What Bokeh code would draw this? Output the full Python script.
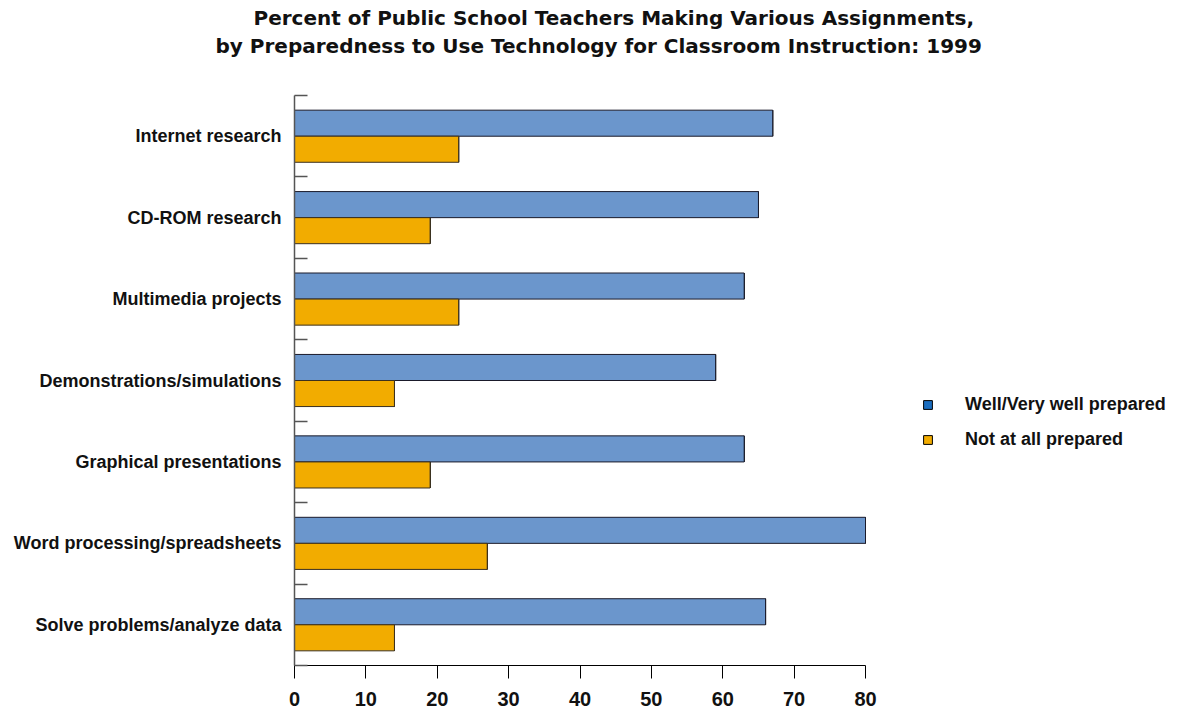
from bokeh.plotting import figure
from bokeh.models import Range1d, FixedTicker, ColumnDataSource, Legend, LegendItem, Title
from bokeh.transform import dodge
from bokeh.embed import file_html
from bokeh.resources import INLINE

title_lines = [
    "Percent of Public School Teachers Making Various Assignments,",
    "by Preparedness to Use Technology for Classroom Instruction: 1999",
]
categories = [
    "Internet research",
    "CD-ROM research",
    "Multimedia projects",
    "Demonstrations/simulations",
    "Graphical presentations",
    "Word processing/spreadsheets",
    "Solve problems/analyze data",
]
well_prepared = [67, 65, 63, 59, 63, 80, 66]
not_prepared = [23, 19, 23, 14, 19, 27, 14]
series_names = ["Well/Very well prepared", "Not at all prepared"]
x_ticks = [0, 10, 20, 30, 40, 50, 60, 70, 80]

BLUE_BAR = "#6b96cc"
ORANGE = "#f2ac00"
BLUE_KEY = "#1b6ec0"
FONT = "Liberation Sans"
TFONT = "DejaVu Sans"

W, H = 1179, 713
FRAME_L, AXIS_R = 294, 865          # pixel positions of value 0 and value 80
x_max = x_ticks[-1]
x_end = x_max * (W - FRAME_L) / (AXIS_R - FRAME_L)   # frame runs to the right edge

n = len(categories)
pos = [n - i - 0.5 for i in range(n)]
source = ColumnDataSource(dict(cat=categories, y=pos, well=well_prepared, notp=not_prepared))

p = figure(width=W, height=H, x_range=Range1d(0, x_end), y_range=Range1d(0, n),
           output_backend="svg", toolbar_location=None, title=None,
           min_border_left=FRAME_L, min_border_right=0, min_border_top=95, min_border_bottom=48)
p.outline_line_color = None
p.xgrid.visible = False
p.ygrid.visible = False

# legend key proxies: zero-width rects sitting on the bars' right edges (hidden under outlines)
k1 = p.hbar(y=dodge("y", 0.16), left="well", right="well", height=0.32, source=source,
            fill_color=BLUE_KEY, line_color="black", line_width=1)
k2 = p.hbar(y=dodge("y", -0.16), left="notp", right="notp", height=0.32, source=source,
            fill_color=ORANGE, line_color="black", line_width=1)

p.hbar(y=dodge("y", 0.16), right="well", left=0, height=0.32, source=source,
       fill_color=BLUE_BAR, line_color="#1a1a2a", line_width=1)
p.hbar(y=dodge("y", -0.16), right="notp", left=0, height=0.32, source=source,
       fill_color=ORANGE, line_color="#3a3020", line_width=1)

# x axis
xa = p.xaxis[0]
xa.ticker = FixedTicker(ticks=x_ticks)
xa.bounds = (0, x_max)
xa.major_tick_in = 0
xa.major_tick_out = 13
xa.minor_tick_out = 0
xa.minor_tick_in = 0
xa.axis_line_color = "black"
xa.major_tick_line_color = "black"
xa.major_label_text_font = FONT
xa.major_label_text_font_size = "20px"
xa.major_label_text_font_style = "bold"
xa.major_label_text_color = "#111111"
xa.major_label_standoff = 13

# y axis
ya = p.yaxis[0]
ya.ticker = FixedTicker(ticks=pos, minor_ticks=list(range(n + 1)))
ya.major_label_overrides = {float(v): c for v, c in zip(pos, categories)}
ya.major_tick_in = 0
ya.major_tick_out = 0
ya.minor_tick_in = 13
ya.minor_tick_out = 0
ya.axis_line_color = "#555555"
ya.axis_line_width = 1.5
ya.minor_tick_line_color = "#555555"
ya.minor_tick_line_width = 1.5
ya.major_label_text_font = FONT
ya.major_label_text_font_size = "18px"
ya.major_label_text_font_style = "bold"
ya.major_label_text_color = "#111111"
ya.major_label_standoff = 13

legend = Legend(items=[LegendItem(label=series_names[0], renderers=[k1]),
                       LegendItem(label=series_names[1], renderers=[k2])],
                location=(628, 215), glyph_width=11, glyph_height=11, spacing=14,
                label_standoff=32, padding=10, margin=0,
                border_line_color=None, background_fill_alpha=0,
                label_text_font=FONT, label_text_font_size="18px",
                label_text_font_style="bold", label_text_color="#111111")
p.add_layout(legend, "center")

# title: spacer nearest the frame, then line 2, then line 1 on top
title_style = dict(align="left", text_font=TFONT, text_font_size="20px",
                   text_font_style="bold", text_color="#111111")
p.add_layout(Title(text=" ", standoff=10, **title_style), "above")
offsets = [-41, -79]
standoffs = [0, 4]
for line, off, so in reversed(list(zip(title_lines, offsets, standoffs))):
    p.add_layout(Title(text=line, offset=off, standoff=so, **title_style), "above")

open("out.html", "w").write(file_html(p, INLINE))
